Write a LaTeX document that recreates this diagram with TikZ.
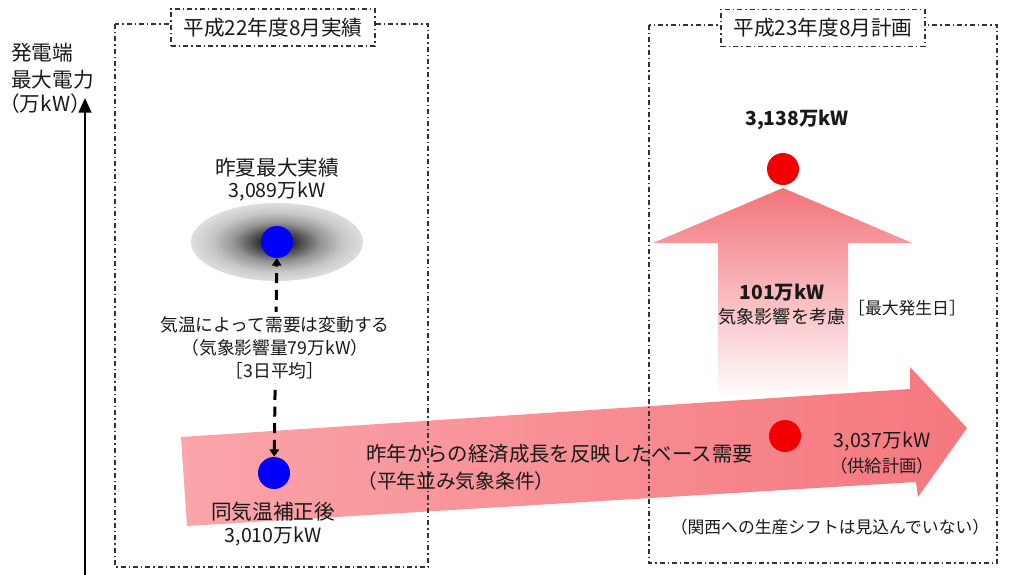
\documentclass[tikz,border=0pt]{standalone}
\usepackage{fontspec}
\setmainfont{Noto Sans CJK JP}
\usetikzlibrary{arrows.meta}
\definecolor{pinkL}{RGB}{250,165,170}
\definecolor{pinkR}{RGB}{244,120,126}
\definecolor{pinkT}{RGB}{242,116,123}
\definecolor{dotred}{RGB}{240,0,0}
\definecolor{dotblue}{RGB}{0,0,250}
\definecolor{txt}{RGB}{25,25,25}
\pgfdeclareradialshading{halo}{\pgfpoint{0bp}{0bp}}{color(0bp)=(black!90); color(5bp)=(black!80); color(12.5bp)=(black!42); color(19bp)=(black!22); color(25bp)=(black!13); color(50bp)=(black!13)}
\tikzset{
  dd/.style={draw=black!80, line width=1.1pt, dash pattern=on 3.75pt off 2.25pt on 1.1pt off 2.25pt},
  ttl/.style={dd, fill=white, minimum width=153pt, minimum height=28pt, inner sep=0pt, text=txt, font=\fontsize{15.5}{18}\selectfont},
  lbl/.style={inner sep=0pt, align=center, text=txt},
  dot/.style={circle, inner sep=0pt, minimum size=24pt},
  fA/.style={font=\fontsize{15.5}{18}\selectfont},
  fB/.style={font=\fontsize{14.7}{18}\selectfont},
  fC/.style={font=\fontsize{13.3}{17.2}\selectfont},
  fD/.style={font=\fontsize{12.6}{16}\selectfont},
  fE/.style={font=\fontsize{14.5}{17}\selectfont\bfseries},
  dasharrow/.style={line width=2.25pt, dash pattern=on 7.5pt off 5pt, {Triangle[length=5.5pt,width=7pt]}-{Triangle[length=5.5pt,width=7pt]}},
}
\begin{document}
\begin{tikzpicture}[x=0.75pt,y=-0.75pt]
\useasboundingbox (0,0) rectangle (1011,575);

% shaded halo behind last summer's peak
\shade[shading=halo] (277,242) ellipse [x radius=64.5pt, y radius=29.25pt];

% upward arrow (weather influence)
\shade[top color=pinkT, bottom color=white]
  (718,400) -- (718,243) -- (653,243) -- (783,188) -- (912,243) -- (848,243) -- (848,400) -- cycle;

% big base demand arrow
\shade[left color=pinkL, right color=pinkR]
  (181,437) -- (910,389) -- (910,367) -- (967,428) -- (918,497) -- (916,482) -- (187,526) -- cycle;

% frames
\draw[dd] (115,24) rectangle (428,567);
\draw[dd] (649,25) rectangle (997,563);
\node[ttl] (t1) at (273,27.5) {平成22年度8月実績};
\node[ttl] (t2) at (823,28) {平成23年度8月計画};

% vertical axis
\coordinate (ax0) at (85,575);
\coordinate (ax1) at (85,98);
\draw[line width=1.9pt, -{Triangle[length=11pt,width=9.5pt]}] (ax0) -- (ax1);
\node[lbl, fA, anchor=west] (ya1) at (11,53) {発電端};
\node[lbl, fA, anchor=west] (ya2) at (11,80) {最大電力};
\node[lbl, fA, anchor=west] (ya3) at (-1,104) {（万kW）};

% left side: actual results
\node[dot, fill=dotblue] (b1) at (277,242) {};
\node[dot, fill=dotblue] (b2) at (274,473) {};
\draw[dasharrow] (b2) -- (b1);
\node[lbl, fC, fill=white, inner sep=3pt] (mid) at (275,347.5) {気温によって需要は変動する\\（気象影響量79万kW）\\［3日平均］};
\node[lbl, fA] (sakka) at (277,168) {昨夏最大実績};
\node[lbl, fB] (v3089) at (277,192) {3,089万kW};
\node[lbl, fA] (hosei) at (273,512) {同気温補正後};
\node[lbl, fB] (v3010) at (273,537) {3,010万kW};

% base demand text
\node[lbl, font=\fontsize{15.3}{18}\selectfont, anchor=west] (base1) at (366,454) {昨年からの経済成長を反映したベース需要};
\node[lbl, font=\fontsize{14.8}{18}\selectfont, anchor=west] (base2) at (357,481) {（平年並み気象条件）};

% right side: plan
\node[dot, fill=dotred] (r1) at (783,169) {};
\node[dot, fill=dotred] (r2) at (785,436) {};
\node[lbl, fE] (v3138) at (797,120) {3,138万kW};
\node[lbl, fE] (v101) at (782,293) {101万kW};
\node[lbl, font=\fontsize{13.6}{17}\selectfont] (kisho) at (782,317) {気象影響を考慮};
\node[lbl, fD] (saidai) at (907,308) {［最大発生日］};
\node[lbl, fB] (v3037) at (882,442) {3,037万kW};
\node[lbl, font=\fontsize{13}{16}\selectfont] (kyokyu) at (882,466) {（供給計画）};
\node[lbl, fD] (kansai) at (830,527) {（関西への生産シフトは見込んでいない）};
\end{tikzpicture}
\end{document}
